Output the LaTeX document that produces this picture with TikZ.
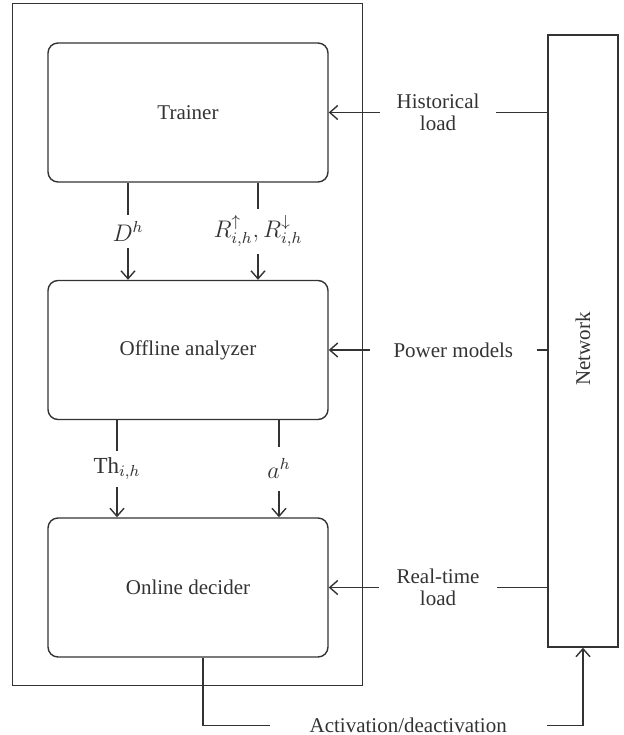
\documentclass[tikz,border=0pt]{standalone}
\usepackage{fontspec}
\setmainfont{Liberation Serif}
\usetikzlibrary{arrows.meta, calc, positioning}
\definecolor{linegray}{RGB}{51,51,51}
\tikzstyle{block} = [rectangle, rounded corners=5pt, minimum width=140pt, minimum height=69.5pt, text centered, draw=linegray, line width=0.7pt, text=linegray]
\tikzstyle{netblock} = [rectangle, minimum width=35pt, minimum height=306pt, draw=linegray, line width=0.7pt, text=linegray]
\tikzstyle{arrow} = [line width=0.7pt, draw=linegray, -{Straight Barb[length=4pt,width=7pt]}]
\tikzstyle{line} = [line width=0.7pt, draw=linegray]
\tikzstyle{lbl} = [fill=white, text=linegray, align=center]
\tikzstyle{mathlbl} = [lbl, font=\fontsize{11.5}{12}\selectfont]

\begin{document}
\begin{tikzpicture}[x=0.5pt, y=-0.5pt, node distance=118.75pt, font=\fontsize{10.5}{11}\selectfont]
\useasboundingbox (0,0) rectangle (623,735);

\node (trainer) [block] at (188,112.5) {Trainer};
\node (offline) [block, below of=trainer] {Offline analyzer};
\node (online) [block, below of=offline] {Online decider};

\node (network) [netblock] at (583,341) {\rotatebox{90}{Network\hspace{8pt}}};

\draw [line] ($(trainer.north west)+(-35,-39)$) rectangle ($(online.south east)+(34,28)$);

\draw [arrow] ($(trainer.south)+(-60,0)$) -- node[mathlbl] {$D^h$} ($(offline.north)+(-60,0)$);
\draw [arrow] ($(trainer.south)+(70,0)$) -- node[mathlbl] {$R^{\uparrow}_{i,h}, R^{\downarrow}_{i,h}$} ($(offline.north)+(70,0)$);
\draw [arrow] ($(offline.south)+(-71,0)$) -- node[mathlbl] {$\mathrm{Th}_{i,h}$} ($(online.north)+(-71,0)$);
\draw [arrow] ($(offline.south)+(91,0)$) -- node[mathlbl, inner ysep=6pt] {$a^h$} ($(online.north)+(91,0)$);

\draw [arrow] (network.west |- trainer.east) -- node[lbl, inner xsep=8.5pt] {Historical\\load} (trainer.east);
\draw [arrow] (network.west |- offline.east) -- node[lbl, pos=0.43, inner xsep=12pt] {Power models} (offline.east);
\draw [arrow] (network.west |- online.east) -- node[lbl, inner xsep=9pt] {Real-time\\load} (online.east);

\draw [arrow] ($(online.south)+(15,0)$) |- node[lbl, pos=0.77, inner xsep=20pt] {Activation/deactivation} ($(network.south)+(0,78)$) -- (network.south);

\end{tikzpicture}
\end{document}
